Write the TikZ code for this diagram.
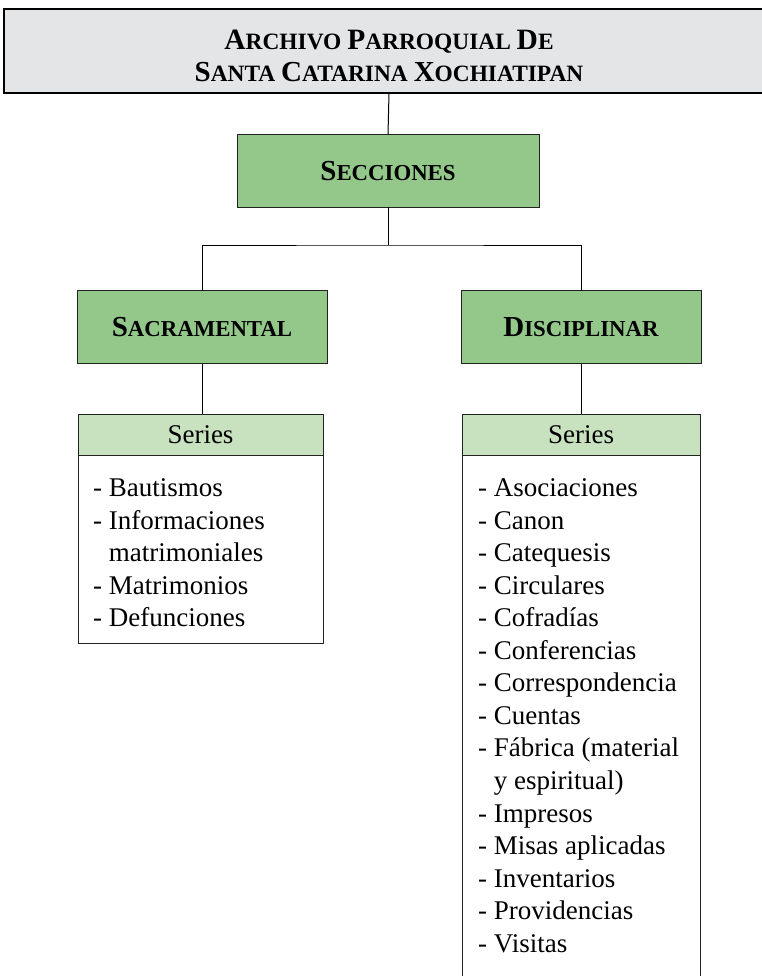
\documentclass[tikz,border=0pt]{standalone}
\usepackage{fontspec}
\setmainfont{Liberation Serif}
\definecolor{titlegray}{HTML}{E4E5E7}
\definecolor{secgreen}{HTML}{94C88B}
\definecolor{sergreen}{HTML}{C8E1BE}
\definecolor{edge}{HTML}{222222}
\newcommand\bigsz{29}
\newcommand\Cap[2]{{\fontsize{\bigsz}{32}\selectfont #1}#2}
\tikzset{
  titlebox/.style={draw=black, line width=1.5pt, fill=titlegray, inner sep=0pt, outer sep=0pt,
    minimum width=770pt, minimum height=84pt},
  titletext/.style={inner sep=0pt, align=center, font=\bfseries\fontsize{23.4}{32}\selectfont},
  greenbox/.style={draw=edge, line width=1pt, fill=secgreen, inner sep=0pt, outer sep=0pt,
    minimum height=73pt, font=\bfseries\fontsize{22.8}{30}\selectfont},
  serhead/.style={draw=edge, line width=1pt, fill=sergreen, inner sep=0pt, outer sep=0pt,
    minimum height=41pt, font=\fontsize{27}{30}\selectfont},
  serbody/.style={draw=edge, line width=1pt, fill=white},
  itemtext/.style={anchor=north west, inner sep=0pt, align=left,
    font=\fontsize{27}{32.55}\selectfont},
  link/.style={draw=black, line width=1pt}
}
\begin{document}
\begin{tikzpicture}[x=1pt,y=-1pt]
\useasboundingbox (0,0) rectangle (762,976);
\clip (0,0) rectangle (762,976);
\fill[white] (0,0) rectangle (762,976);
% title
\node[titlebox] (title) at (389,51) {};
\node[titletext] (titletxt) at (389,56) {\renewcommand\bigsz{29.5}%
  \Cap{A}{RCHIVO} \Cap{P}{ARROQUIAL} \Cap{D}{E}\\
  \Cap{S}{ANTA} \Cap{C}{ATARINA} \Cap{X}{OCHIATIPAN}};
% sections
\node[greenbox, minimum width=302pt] (sec) at (388,171) {\Cap{S}{ECCIONES}};
\node[greenbox, minimum width=250pt] (sac) at (202,327) {\Cap{S}{ACRAMENTAL}};
\node[greenbox, minimum width=240pt] (dis) at (581,327) {\Cap{D}{ISCIPLINAR}};
% series
\path[serbody] (78,434.5) rectangle (323,643);
\path[serbody] (462,434.5) rectangle (700,1000);
\node[serhead, minimum width=245pt] (serL) at (200.5,434.5) {Series};
\node[serhead, minimum width=238pt] (serR) at (581,434.5) {Series};
\node[itemtext] (listL) at (93,478.5) {%
- Bautismos\\
- Informaciones\\
\phantom{- }matrimoniales\\
- Matrimonios\\
- Defunciones};
\node[itemtext] (listR) at (478,478.5) {%
- Asociaciones\\
- Canon\\
- Catequesis\\
- Circulares\\
- Cofradías\\
- Conferencias\\
- Correspondencia\\
- Cuentas\\
- Fábrica (material\\
\phantom{- }y espiritual)\\
- Impresos\\
- Misas aplicadas\\
- Inventarios\\
- Providencias\\
- Visitas};
% connectors
\coordinate (junc) at (388,245);
\draw[link] (title.south) -- (sec.north);
\draw[link] (sec.south) -- (junc);
\draw[link] (sac.north) |- (junc) -| (dis.north);
\draw[link] (sac.south) -- (sac.south |- serL.north);
\draw[link] (dis.south) -- (dis.south |- serR.north);
\end{tikzpicture}
\end{document}
